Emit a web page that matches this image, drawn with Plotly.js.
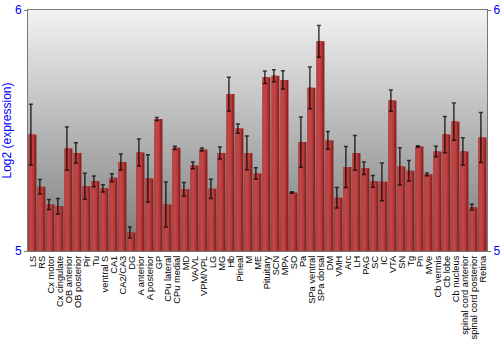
<!DOCTYPE html>
<html>
<head>
<meta charset="utf-8">
<script src="https://cdn.plot.ly/plotly-3.0.1.min.js"></script>
<style>html,body{margin:0;padding:0;background:#fff;}#chart{width:500px;height:350px;}</style>
</head>
<body>
<div id="chart"></div>
<script>
var regions = ["LS","RS","Cx motor","Cx cingulate","OB anterior","OB posterior","Pir","Tu","ventral S","CA1","CA2/CA3","DG","A anterior","A posterior","GP","CPu lateral","CPu medial","MD","VA/VL","VPM/VPL","LG","MG","Hb","Pineal","M","ME","Pituitary","SCN","MPA","SO","Pa","SPa ventral","SPa dorsal","DM","VMH","Arc","LH","PAG","SC","IC","VTA","SN","Tg","Pn","MVe","Cb vermis","Cb lobe","Cb nucleus","spinal cord anterior","spinal cord posterior","Retina"];
var expression = [5.483,5.267,5.193,5.186,5.425,5.407,5.269,5.289,5.260,5.304,5.369,5.077,5.409,5.301,5.548,5.193,5.428,5.256,5.355,5.421,5.258,5.407,5.651,5.508,5.407,5.322,5.721,5.727,5.710,5.243,5.452,5.677,5.870,5.459,5.221,5.349,5.407,5.343,5.289,5.287,5.624,5.351,5.333,5.434,5.318,5.413,5.483,5.537,5.413,5.182,5.471];
var stderr = [0.126,0.030,0.021,0.032,0.090,0.042,0.054,0.022,0.015,0.017,0.033,0.023,0.056,0.098,0.006,0.093,0.007,0.028,0.014,0.006,0.040,0.025,0.070,0.019,0.070,0.023,0.026,0.025,0.038,0.003,0.104,0.087,0.066,0.037,0.043,0.085,0.072,0.026,0.024,0.078,0.044,0.077,0.043,0.003,0.006,0.022,0.075,0.077,0.057,0.012,0.104];
var yTicks = [5, 6];

var bgSvg = '<svg xmlns="http://www.w3.org/2000/svg" width="10" height="100" preserveAspectRatio="none"><defs><linearGradient id="g" x1="0" y1="0" x2="0" y2="1"><stop offset="0" stop-color="#f2f2f2"/><stop offset="1" stop-color="#7a7a7a"/></linearGradient></defs><rect width="10" height="100" fill="url(#g)"/></svg>';

var traces = [
  {type:'bar', x:regions, y:expression, width:0.88, offset:-0.44,
   marker:{color:'#8c2222', line:{width:0}}, hoverinfo:'skip', showlegend:false},
  {type:'bar', x:regions, y:expression, width:0.66, offset:-0.44, yaxis:'y2',
   marker:{color:'#b33838', line:{width:0}}, hoverinfo:'skip', showlegend:false},
  {type:'bar', x:regions, y:expression, width:0.36, offset:-0.36, yaxis:'y2',
   marker:{color:'#c24545', line:{width:0}}, showlegend:false,
   error_y:{type:'data', array:stderr, visible:true, color:'rgba(0,0,0,0.75)', thickness:1.5, width:2}}
];

var layout = {
  width:500, height:350,
  margin:{l:28, r:13, t:10, b:99},
  paper_bgcolor:'#ffffff', plot_bgcolor:'rgba(0,0,0,0)',
  barmode:'overlay', bargap:0.1,
  font:{family:'Liberation Sans, Arial, sans-serif', color:'#000'},
  xaxis:{type:'category', tickmode:'array', tickvals:regions, ticktext:regions,
         tickangle:-90, tickfont:{size:9.3, color:'#000'}, showgrid:false,
         ticks:'', showline:true, mirror:true, linecolor:'#777', linewidth:1, zeroline:false, fixedrange:true},
  yaxis:{range:[5,6], tickvals:yTicks, ticktext:yTicks.map(String), tickfont:{size:12, color:'#0000ff'},
         showgrid:false, zeroline:false, showline:true, linecolor:'#777', linewidth:1,
         ticks:'outside', ticklen:3, tickcolor:'#777',
         title:{text:'Log2 (expression)', font:{size:12, color:'#0000ff'}, standoff:4}},
  yaxis2:{range:[5,6], overlaying:'y', side:'right', tickvals:yTicks, ticktext:yTicks.map(String),
          tickfont:{size:12, color:'#0000ff'}, showgrid:false, zeroline:false, showline:true,
          linecolor:'#777', linewidth:1, ticks:'outside', ticklen:3, tickcolor:'#777'},
  images:[{source:'data:image/svg+xml;utf8,' + encodeURIComponent(bgSvg), xref:'paper', yref:'paper',
           x:0, y:1, sizex:1, sizey:1, sizing:'stretch', xanchor:'left', yanchor:'top', layer:'below'}]
};

Plotly.newPlot('chart', traces, layout, {displayModeBar:false, staticPlot:true});
</script>
</body>
</html>
